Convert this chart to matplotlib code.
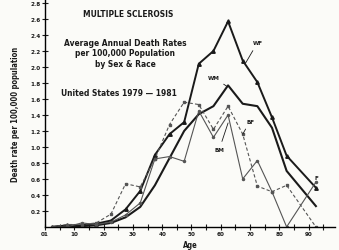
import matplotlib
matplotlib.use("Agg")
from matplotlib import pyplot as plt

ages = [2.5, 7.5, 12.5, 17.5, 22.5, 27.5, 32.5, 37.5, 42.5, 47.5, 52.5, 57.5, 62.5, 67.5, 72.5, 77.5, 82.5, 92.5]
wf = [0.0, 0.02, 0.02, 0.04, 0.08, 0.22, 0.45, 0.90, 1.16, 1.31, 2.04, 2.20, 2.57, 2.08, 1.81, 1.37, 0.89, 0.49]
wm = [0.0, 0.01, 0.01, 0.02, 0.05, 0.12, 0.25, 0.52, 0.86, 1.20, 1.41, 1.51, 1.77, 1.54, 1.51, 1.24, 0.70, 0.26]
bf = [0.0, 0.03, 0.03, 0.05, 0.16, 0.54, 0.50, 0.85, 1.28, 1.56, 1.53, 1.22, 1.51, 1.16, 0.51, 0.44, 0.52, 0.0]
bm = [0.0, 0.0, 0.05, 0.03, 0.06, 0.15, 0.30, 0.85, 0.88, 0.82, 1.45, 1.12, 1.40, 0.60, 0.83, 0.44, 0.0, 0.56]

x_ticks = [0, 10, 20, 30, 40, 50, 60, 70, 80, 90]
x_labels = ["01", "10", "20", "30", "40", "50", "60", "70", "80", "90"]
y_ticks = [0.2, 0.4, 0.6, 0.8, 1.0, 1.2, 1.4, 1.6, 1.8, 2.0, 2.2, 2.4, 2.6, 2.8]

font = dict(family="DejaVu Sans", stretch="condensed", weight="bold")
ink = "#1a1a1a"

fig = plt.figure(figsize=(3.39, 2.51), dpi=100)
fig.patch.set_facecolor("#fbfbf8")
ax = fig.add_axes([0.133, 0.092, 0.855, 0.908])
ax.set_facecolor("#fbfbf8")

ax.plot(ages, wf, color=ink, lw=1.4, marker="^", ms=2.5)
ax.plot(ages, wm, color=ink, lw=1.5)
ax.plot(ages, bf, color="#555555", lw=0.8, ls=(0, (3, 2)), marker="s", ms=1.5)
ax.plot(ages, bm, color="#555555", lw=0.8, marker="o", ms=1.5)

ax.set_xlim(0, 99)
ax.set_ylim(0, 2.85)
for s in ["top", "right"]:
    ax.spines[s].set_visible(False)
ax.spines["left"].set_linewidth(1.0)
ax.spines["bottom"].set_linewidth(1.0)
ax.set_xticks(x_ticks)
ax.set_xticklabels(x_labels)
ax.set_xticks(list(range(5, 100, 10)), minor=True)
ax.set_yticks(y_ticks)
ax.set_yticklabels(["%.1f" % v for v in y_ticks])
ax.tick_params(axis="both", which="both", direction="inout", length=4, width=0.8, labelsize=4.5, pad=1, colors=ink)
for lab in ax.get_xticklabels() + ax.get_yticklabels():
    lab.set_fontweight("bold")
    lab.set_fontstretch("condensed")

ax.set_ylabel("Death rate per 100,000 population", fontsize=5.5, labelpad=8, color=ink, **font)
ax.set_xlabel("Age", fontsize=5.5, labelpad=3, color=ink, **font)

fig.text(128 / 339, 1 - 15 / 251, "MULTIPLE SCLEROSIS", fontsize=6, ha="center", va="center", color=ink, **font)
fig.text(125 / 339, 1 - 54 / 251, "Average Annual Death Rates\nper 100,000 Population\nby Sex & Race",
         fontsize=6, ha="center", va="center", linespacing=1.25, color=ink, **font)
fig.text(119 / 339, 1 - 93 / 251, "United States 1979 \u2014 1981", fontsize=6, ha="center", va="center", color=ink, **font)

ax.annotate("WF", xy=(68.5, 2.05), xytext=(72.5, 2.3), fontsize=4.5, color=ink, ha="center", va="center",
            arrowprops=dict(arrowstyle="-", lw=0.6, color=ink, shrinkA=2, shrinkB=0), **font)
ax.annotate("WM", xy=(62.0, 1.76), xytext=(57.5, 1.87), fontsize=4.5, color=ink, ha="center", va="center",
            arrowprops=dict(arrowstyle="-", lw=0.6, color=ink, shrinkA=2, shrinkB=0), **font)
ax.annotate("BF", xy=(67.5, 1.16), xytext=(70.0, 1.32), fontsize=4.5, color=ink, ha="center", va="center",
            arrowprops=dict(arrowstyle="-", lw=0.6, color=ink, shrinkA=2, shrinkB=0), **font)
ax.annotate("BM", xy=(62.5, 1.3), xytext=(59.5, 0.97), fontsize=4.5, color=ink, ha="center", va="center",
            arrowprops=dict(arrowstyle="-", lw=0.6, color=ink, shrinkA=2, shrinkB=0), **font)
ax.text(92.5, 0.62, "F", fontsize=4.5, color=ink, ha="center", va="center", **font)

fig.savefig("out.png", dpi=100, facecolor=fig.get_facecolor())
